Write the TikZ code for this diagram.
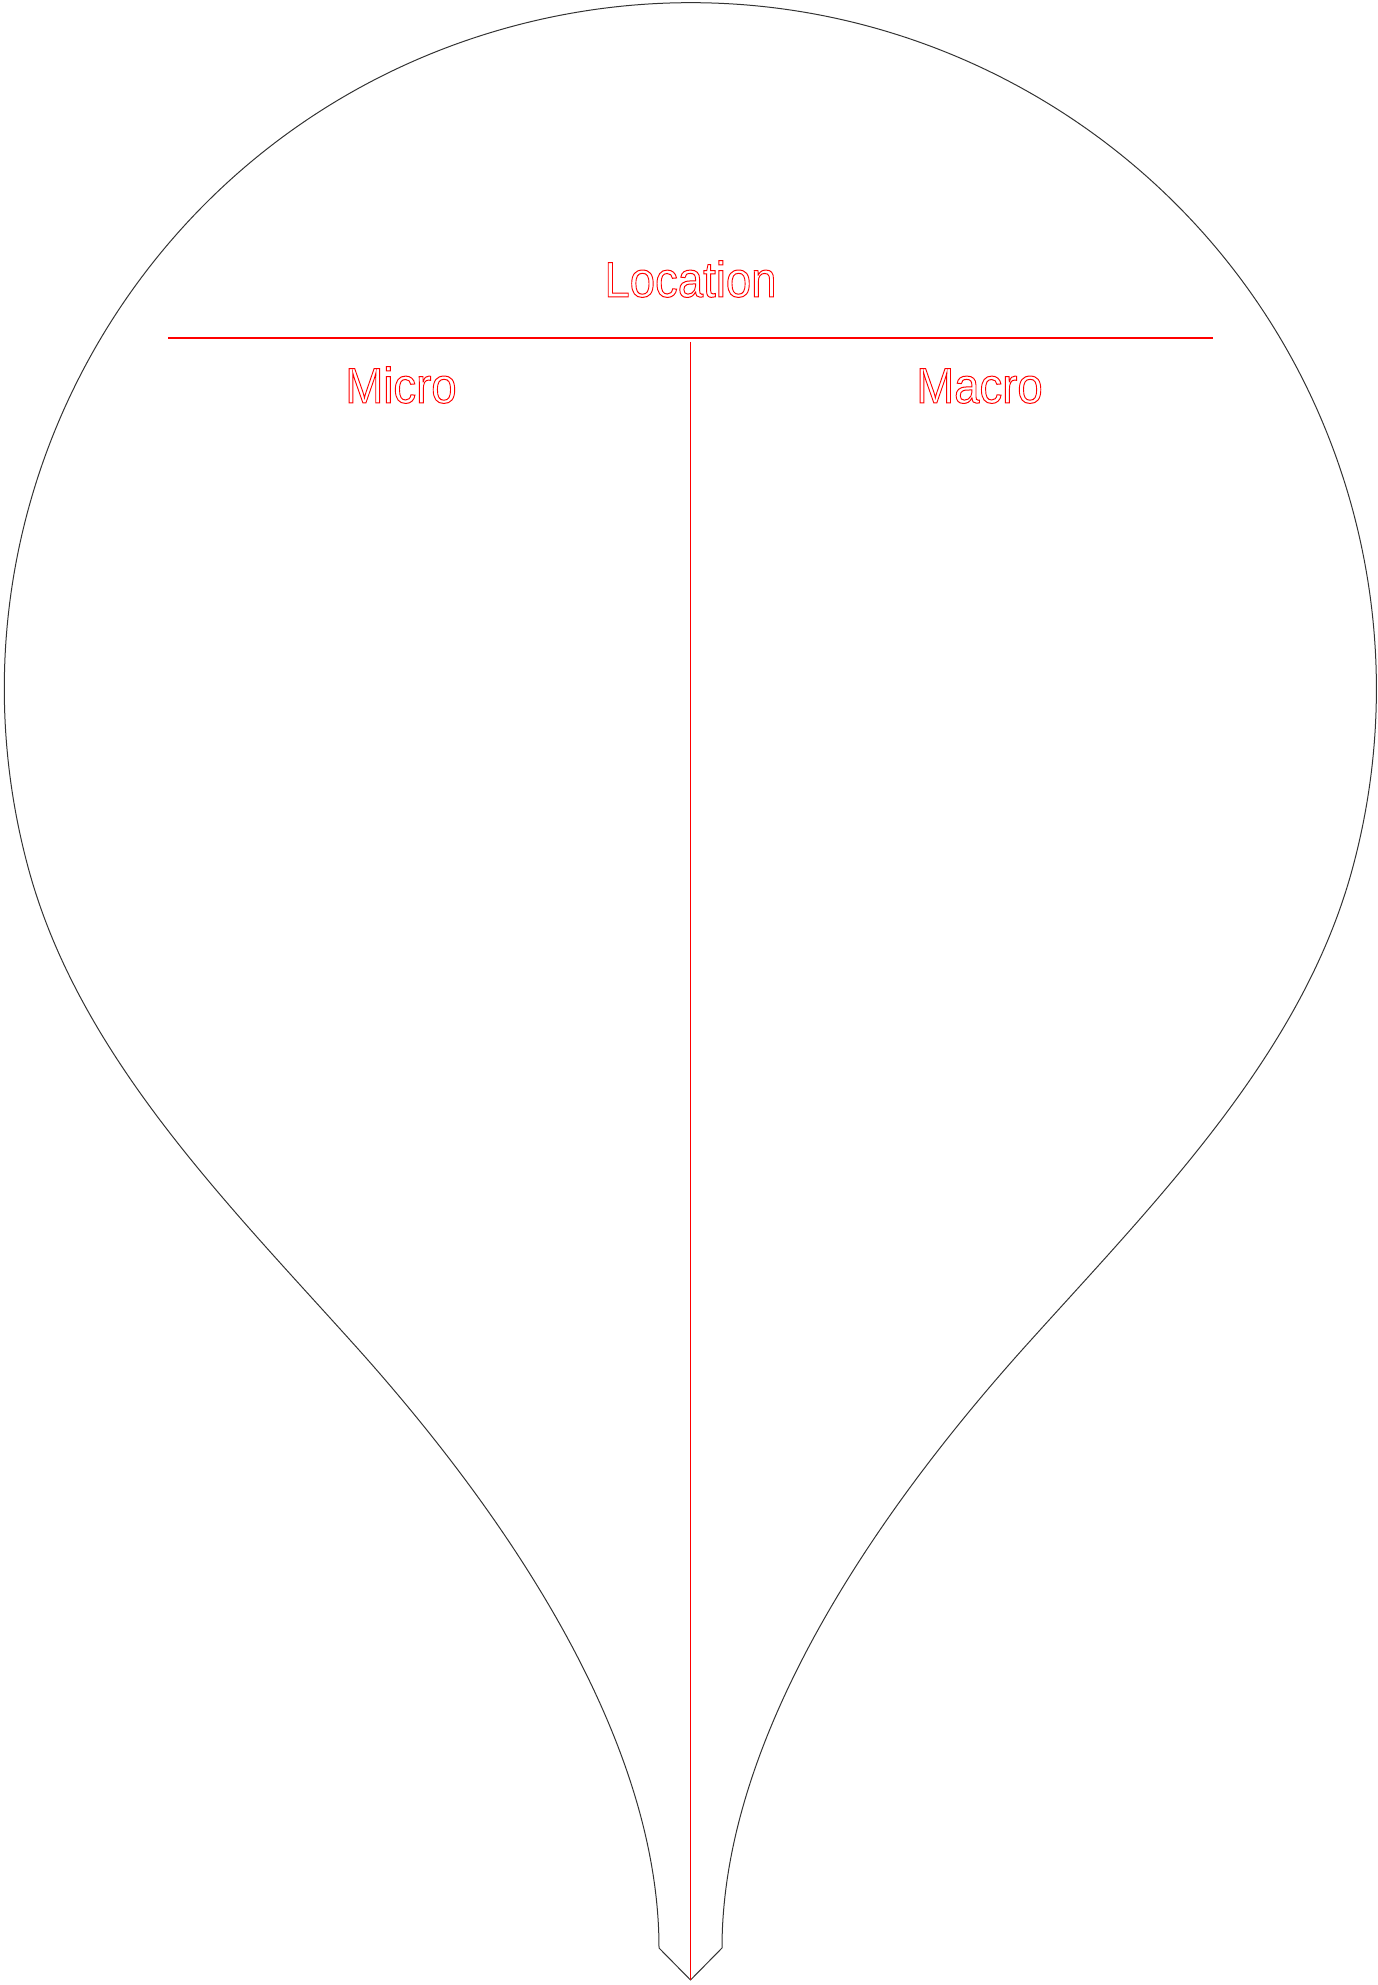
\documentclass[tikz,border=0pt]{standalone}
\usepackage{fontspec}
\setmainfont{Liberation Sans}
\usepackage{graphicx}
\newcommand{\outlinetext}[1]{\scalebox{0.91}[1]{\special{pdf:literal direct 1 Tr 0.5 w}#1\special{pdf:literal direct 0 Tr}}}
\begin{document}
\begin{tikzpicture}[x=0.5pt,y=0.5pt]
\tikzset{
  pinline/.style={draw=black!80, line width=0.5pt, line join=miter},
  redline/.style={draw=red, line width=0.75pt},
  lbl/.style={text=red, inner sep=0pt, anchor=base, font=\fontsize{25}{30}\selectfont}
}
\useasboundingbox (0,0) rectangle (1377,1985);
% pin outline
\coordinate (ljunc) at (29.1,1114);
\coordinate (tip) at (690.5,5);
\draw[pinline] (ljunc) arc[start angle=195.4, end angle=-15.4, radius=686]
  .. controls (1301.4,931) and (1158,786) .. (1031,645)
  .. controls (879,477) and (722,250) .. (722,37)
  -- (tip) -- (659,37)
  .. controls (659,250) and (502,477) .. (350,645)
  .. controls (223,786) and (79.6,931) .. (ljunc) -- cycle;
% red lines
\coordinate (hl) at (168,1647);
\coordinate (hr) at (1213,1647);
\coordinate (vtop) at (690.5,1643);
\draw[redline] (hl) -- (hr);
\draw[redline, line width=0.95pt] (vtop) -- (tip);
% labels
\node[lbl] (location) at (690.5,1688) {\outlinetext{Location}};
\node[lbl] (micro) at (401,1582) {\outlinetext{Micro}};
\node[lbl] (macro) at (979.5,1582) {\outlinetext{Macro}};
\end{tikzpicture}
\end{document}
